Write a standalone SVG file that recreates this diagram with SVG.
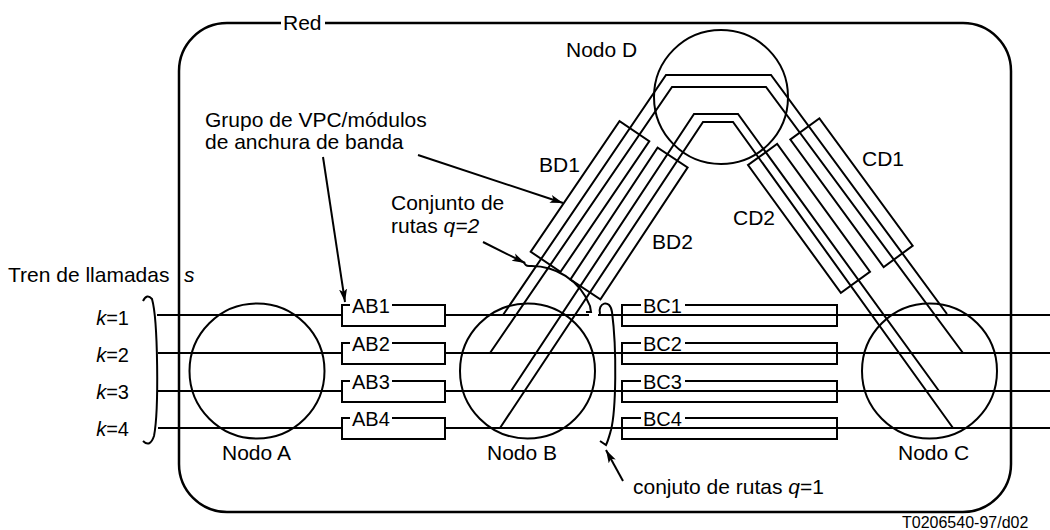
<svg xmlns="http://www.w3.org/2000/svg" width="1050" height="530" viewBox="0 0 1050 530">
<style>
  .ln{fill:none;stroke:#000;stroke-width:2}
  .frame{fill:none;stroke:#000;stroke-width:2.5}
  .t{font-family:"Liberation Sans",Arial,sans-serif;font-size:21px;fill:#000}
  .b{font-family:"Liberation Sans",Arial,sans-serif;font-size:20px;fill:#000}
  .i{font-style:italic}
  .small{font-family:"Liberation Sans",Arial,sans-serif;font-size:16px;fill:#000}
</style>
<defs>
  <marker id="ah" viewBox="0 0 14 10" refX="13" refY="5" markerWidth="14" markerHeight="10" markerUnits="userSpaceOnUse" orient="auto">
    <path d="M0,1 L13,5 L0,9 L3,5 z" fill="#000"/>
  </marker>
</defs>
<rect width="1050" height="530" fill="#fff"/>

<g id="network-frame">
  <path class="frame" d="M281,23 L227,23 A48,48 0 0 0 179,71 L179,464 A48,48 0 0 0 227,512 L963,512 A48,48 0 0 0 1011,464 L1011,71 A48,48 0 0 0 963,23 L325,23"/>
  <text class="t" x="283" y="30">Red</text>
</g>

<g id="connectors">
  <!-- call trains k=1..4 -->
  <path class="ln" d="M157,315 L342,315 M445,315 L589,315 M598,315 L1050,315"/>
  <path class="ln" d="M158,353 L342,353 M445,353 L1050,353"/>
  <path class="ln" d="M158,391 L342,391 M445,391 L1050,391"/>
  <path class="ln" d="M158,428 L342,428 M445,428 L1050,428"/>
  <!-- routes via node D -->
  <path class="ln" d="M503,315 L666,75 L771,75 L947,314"/>
  <path class="ln" d="M490,353 L672,87 L766,87 L963,353"/>
  <path class="ln" d="M511,391 L694,114 L738,114 L939,391"/>
  <path class="ln" d="M500,428 L703,122 L733,122 L953,428"/>
  <!-- annotation arrows -->
  <path class="ln" d="M323,157 L345,302" marker-end="url(#ah)"/>
  <path class="ln" d="M418,155 L563,203" marker-end="url(#ah)"/>
  <path class="ln" d="M483,242 L525,263" marker-end="url(#ah)"/>
  <path class="ln" d="M623,481 L606,450" marker-end="url(#ah)"/>
  <!-- brackets -->
  <path class="ln" d="M143,301 Q147,293 152,299 C158,320 159,410 154,436 Q150,448 143,441"/>
  <path class="ln" d="M524,262 Q525,266 529,266 C555,265 580,280 590,306 L591,312 L586,312"/>
  <path class="ln" d="M600,314 C597,303 610,298 612,312 C617,350 616,410 611,430 C609,437 608,441 606,445 L600,441"/>
</g>

<g id="node-A">
  <circle class="ln" cx="257" cy="371" r="67.5"/>
  <text class="t" x="222" y="460">Nodo A</text>
</g>
<g id="node-B">
  <circle class="ln" cx="527.5" cy="371" r="67.5"/>
  <text class="t" x="487" y="460">Nodo B</text>
</g>
<g id="node-C">
  <circle class="ln" cx="929.5" cy="371" r="67.5"/>
  <text class="t" x="898" y="460">Nodo C</text>
</g>
<g id="node-D">
  <circle class="ln" cx="721" cy="97" r="67"/>
  <text class="t" x="566" y="57">Nodo D</text>
</g>

<g id="AB1"><path class="ln" d="M350,305 L342,305 L342,326 L445,326 L445,305 L392,305"/><text class="b" x="352" y="312.5">AB1</text></g>
<g id="AB2"><path class="ln" d="M350,343 L342,343 L342,364 L445,364 L445,343 L392,343"/><text class="b" x="352" y="350.5">AB2</text></g>
<g id="AB3"><path class="ln" d="M350,381 L342,381 L342,402 L445,402 L445,381 L392,381"/><text class="b" x="352" y="388.5">AB3</text></g>
<g id="AB4"><path class="ln" d="M350,418 L342,418 L342,439 L445,439 L445,418 L392,418"/><text class="b" x="352" y="425.5">AB4</text></g>

<g id="BC1"><path class="ln" d="M641,305 L622,305 L622,326 L837,326 L837,305 L685,305"/><text class="b" x="643" y="312.5">BC1</text></g>
<g id="BC2"><path class="ln" d="M641,343 L622,343 L622,364 L837,364 L837,343 L685,343"/><text class="b" x="643" y="350.5">BC2</text></g>
<g id="BC3"><path class="ln" d="M641,381 L622,381 L622,402 L837,402 L837,381 L685,381"/><text class="b" x="643" y="388.5">BC3</text></g>
<g id="BC4"><path class="ln" d="M641,418 L622,418 L622,439 L837,439 L837,418 L685,418"/><text class="b" x="643" y="425.5">BC4</text></g>

<g id="BD1"><rect class="ln" x="-79" y="-18" width="158" height="36" transform="translate(590,196.5) rotate(-55.8)"/><text class="t" x="539" y="172">BD1</text></g>
<g id="BD2"><rect class="ln" x="-79" y="-18" width="158" height="36" transform="translate(629,223.5) rotate(-56.5)"/><text class="t" x="652" y="249">BD2</text></g>
<g id="CD1"><rect class="ln" x="-79" y="-18" width="158" height="36" transform="translate(851.5,192.7) rotate(53.8)"/><text class="t" x="862" y="166">CD1</text></g>
<g id="CD2"><rect class="ln" x="-79" y="-18" width="158" height="36" transform="translate(809,218.4) rotate(54)"/><text class="t" x="733" y="225">CD2</text></g>

<g id="labels">
  <text class="t" x="205" y="127">Grupo de VPC/módulos</text>
  <text class="t" x="205" y="149">de anchura de banda</text>
  <text class="t" x="391" y="210">Conjunto de</text>
  <text class="t" x="391" y="233">rutas <tspan class="i">q=2</tspan></text>
  <text class="t" x="8" y="282">Tren de llamadas</text>
  <text class="t i" x="184" y="282">s</text>
  <text class="b" x="129" y="325" text-anchor="end"><tspan class="i">k</tspan>=1</text>
  <text class="b" x="129" y="362" text-anchor="end"><tspan class="i">k</tspan>=2</text>
  <text class="b" x="129" y="399" text-anchor="end"><tspan class="i">k</tspan>=3</text>
  <text class="b" x="129" y="436" text-anchor="end"><tspan class="i">k</tspan>=4</text>
  <text class="t" x="633" y="494">conjuto de rutas <tspan class="i">q</tspan>=1</text>
  <text class="small" x="902" y="528">T0206540-97/d02</text>
</g>
</svg>
